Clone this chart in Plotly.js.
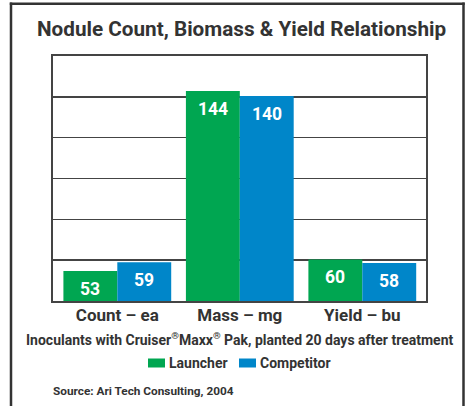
<!DOCTYPE html>
<html>
<head>
<meta charset="utf-8">
<script src="https://cdn.plot.ly/plotly-3.0.1.min.js"></script>
<style>
html,body{margin:0;padding:0;background:#fff;}
#chart{width:467px;height:406px;}
</style>
</head>
<body>
<div id="chart"></div>
<script>
// ---- data ----
const categories = ['Count – ea', 'Mass – mg', 'Yield – bu'];
const seriesNames = ['Launcher', 'Competitor'];
// printed values
const launcherValues = [53, 144, 60];
const competitorValues = [59, 140, 58];
// drawn bar heights (axis units, the original chart is not drawn to one scale)
const launcherHeights = [20.5, 144, 28.5];
const competitorHeights = [26.5, 140.5, 26];
const titleText = 'Nodule Count, Biomass &amp; Yield Relationship';
const subtitleText = 'Inoculants with Cruiser<sup>®</sup>Maxx<sup>®</sup> Pak, planted 20 days after treatment';
const sourceText = 'Source: Ari Tech Consulting, 2004';
const colors = ['#00A651', '#0086C9'];

const FONT = 'Roboto, "Liberation Sans", sans-serif';
const DARK = '#333333';

// geometry
const W = 467, H = 406;
const mL = 53, mR = 41, mT = 56, mB = 105;
const pw = W - mL - mR, ph = H - mT - mB;
const px = x => (x - mL) / pw;
const py = y => (H - mB - y) / ph;

const bargap = 0.12;
const halfBar = (1 - bargap) / 4;

const traces = [
  {type: 'bar', name: seriesNames[0], x: categories, y: launcherHeights,
   marker: {color: colors[0], line: {width: 0}}, showlegend: false, hoverinfo: 'skip'},
  {type: 'bar', name: seriesNames[1], x: categories, y: competitorHeights,
   marker: {color: colors[1], line: {width: 0}}, showlegend: false, hoverinfo: 'skip'}
];

const annotations = [];
[[launcherValues, launcherHeights, -halfBar], [competitorValues, competitorHeights, halfBar]].forEach(([vals, hts, off]) => {
  vals.forEach((v, i) => {
    annotations.push({
      x: i + off, y: hts[i], xref: 'x', yref: 'y', text: '<b>' + v + '</b>',
      showarrow: false, yanchor: 'middle', xanchor: 'center', yshift: -18,
      font: {family: FONT, size: 17.5, color: '#ffffff'}
    });
  });
});
// title
annotations.push({x: px(241), y: py(29), xref: 'paper', yref: 'paper', text: '<b>' + titleText + '</b>',
  showarrow: false, xanchor: 'center', yanchor: 'middle', font: {family: FONT, size: 20.7, color: DARK}});
// subtitle
annotations.push({x: px(240), y: py(339), xref: 'paper', yref: 'paper', text: '<b>' + subtitleText + '</b>',
  showarrow: false, xanchor: 'center', yanchor: 'middle', font: {family: FONT, size: 14, color: DARK}});
// legend texts
const legendX = [[148, 169], [239, 260]];
seriesNames.forEach((n, k) => {
  annotations.push({x: px(legendX[k][1]), y: py(363), xref: 'paper', yref: 'paper', text: '<b>' + n + '</b>',
    showarrow: false, xanchor: 'left', yanchor: 'middle', xshift: -2, font: {family: FONT, size: 14, color: DARK}});
});
// source
annotations.push({x: px(53), y: py(391), xref: 'paper', yref: 'paper', text: '<b>' + sourceText + '</b>',
  showarrow: false, xanchor: 'left', yanchor: 'middle', xshift: -2, font: {family: FONT, size: 11.8, color: DARK}});

const shapes = [];
seriesNames.forEach((n, k) => {
  shapes.push({type: 'rect', xref: 'paper', yref: 'paper',
    x0: px(legendX[k][0]), x1: px(legendX[k][0] + 17), y0: py(358.5), y1: py(367.5),
    fillcolor: colors[k], line: {width: 0}});
});
// outer frame
shapes.push({type: 'line', xref: 'paper', yref: 'paper', x0: px(11), x1: px(11), y0: py(2.5), y1: py(410), line: {color: DARK, width: 2.5}});
shapes.push({type: 'line', xref: 'paper', yref: 'paper', x0: px(463.5), x1: px(463.5), y0: py(2.5), y1: py(410), line: {color: DARK, width: 2.5}});
shapes.push({type: 'line', xref: 'paper', yref: 'paper', x0: px(9.8), x1: px(464.7), y0: py(3.7), y1: py(3.7), line: {color: DARK, width: 2.5}});

const layout = {
  width: W, height: H,
  margin: {l: mL, r: mR, t: mT, b: mB},
  paper_bgcolor: '#ffffff', plot_bgcolor: '#ffffff',
  barmode: 'group', bargap: bargap, bargroupgap: 0,
  showlegend: false,
  xaxis: {type: 'category', range: [-0.525, 2.52], showgrid: false, zeroline: false,
    showline: true, mirror: true, linecolor: '#444', linewidth: 2, ticks: '',
    tickfont: {family: FONT, size: 17, color: DARK}, ticklabelstandoff: -2,
    tickvals: categories, ticktext: categories.map(c => '<b>' + c + '</b>')},
  yaxis: {range: [0, 168], dtick: 28, tick0: 0, showgrid: true, gridcolor: '#444', gridwidth: 1.4,
    zeroline: false, showline: true, mirror: true, linecolor: '#444', linewidth: 2,
    showticklabels: false, ticks: ''},
  annotations: annotations,
  shapes: shapes,
  font: {family: FONT}
};

Plotly.newPlot('chart', traces, layout, {displayModeBar: false, staticPlot: true});
</script>
</body>
</html>
